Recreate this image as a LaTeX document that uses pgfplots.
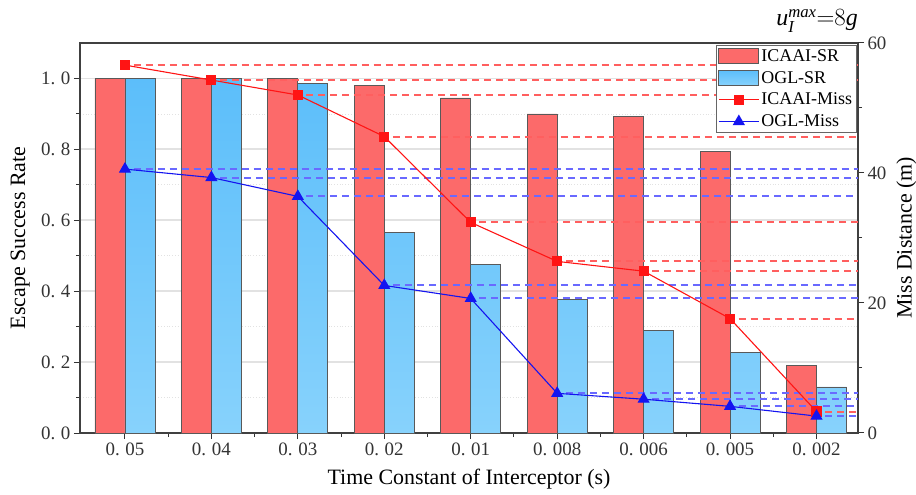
\documentclass[border=0pt]{standalone}
\usepackage{fontspec}
\setmainfont{Liberation Serif}
\usepackage{pgfplots}
\pgfplotsset{compat=1.18}
\definecolor{barred}{RGB}{252,106,106}
\definecolor{bluetop}{RGB}{92,190,250}
\definecolor{bluebot}{RGB}{135,210,252}
\definecolor{missred}{RGB}{255,20,20}
\definecolor{missblue}{RGB}{20,20,240}
\definecolor{dashred}{RGB}{255,95,95}
\definecolor{dashblue}{RGB}{105,105,255}
\definecolor{gridgray}{RGB}{226,226,226}
\newcommand\tk[2]{#1.\hspace{0.3em}#2}
\pgfplotsset{
  barleg/.style={legend image code/.code={\draw[##1] (0bp,-7.5bp) rectangle (40bp,7.5bp);}},
  lineleg/.style={legend image code/.code={\draw[mark repeat=2,mark phase=2,##1] plot coordinates {(0bp,0bp) (20bp,0bp) (40bp,0bp)};}},
  dashR/.style={draw=dashred, line width=2bp, dash pattern=on 7bp off 5bp, forget plot},
  dashB/.style={draw=dashblue, line width=2bp, dash pattern=on 7bp off 5bp, forget plot},
}
\begin{document}
\begin{tikzpicture}
\begin{axis}[
  at={(0,0)}, anchor=south west,
  scale only axis, width=778bp, height=390bp,
  xmin=-0.52, xmax=8.48, ymin=0, ymax=1.1,
  xtick={0,...,8},
  xticklabels={\tk{0}{05},\tk{0}{04},\tk{0}{03},\tk{0}{02},\tk{0}{01},\tk{0}{008},\tk{0}{006},\tk{0}{005},\tk{0}{002}},
  minor xtick={0.5,1.5,2.5,3.5,4.5,5.5,6.5,7.5},
  ytick={0,0.2,0.4,0.6,0.8,1.0},
  yticklabels={\tk{0}{0},\tk{0}{2},\tk{0}{4},\tk{0}{6},\tk{0}{8},\tk{1}{0}},
  minor ytick={0.1,0.3,0.5,0.7,0.9},
  xtick pos=bottom, ytick pos=left,
  tick align=outside,
  major tick length=6bp, minor tick length=4bp,
  every tick/.style={black!80, line width=1bp},
  axis line style={black!75, line width=1.3bp},
  ymajorgrids, yminorgrids,
  major grid style={gridgray, line width=1.8bp},
  minor grid style={gridgray, line width=0.8bp, dotted},
  tick label style={font=\fontsize{19}{19}\selectfont, text=black!80},
  label style={font=\fontsize{22}{22}\selectfont},
  xlabel={Time Constant of Interceptor (s)},
  ylabel={Escape Success Rate},
  xlabel style={at={(axis description cs:0.5,-0.118)}, anchor=center},
  ylabel style={at={(axis description cs:-0.077,0.5)}, anchor=center},
]
\addplot[ybar, bar width=30bp, bar shift=-15bp, fill=barred, draw=black!65, line width=0.8bp]
  coordinates {(0,1.0) (1,1.0) (2,1.0) (3,0.98) (4,0.945) (5,0.9) (6,0.894) (7,0.795) (8,0.19)};
\addplot[ybar, bar width=30bp, bar shift=15bp, top color=bluetop, bottom color=bluebot, draw=black!65, line width=0.8bp]
  coordinates {(0,1.0) (1,1.0) (2,0.985) (3,0.566) (4,0.476) (5,0.377) (6,0.29) (7,0.228) (8,0.13)};
\end{axis}
\begin{axis}[
  at={(0,0)}, anchor=south west,
  scale only axis, width=778bp, height=390bp,
  xmin=-0.52, xmax=8.48, ymin=0, ymax=60,
  axis x line=none, axis y line*=right,
  ytick={0,20,40,60}, yticklabels={0,20,40,60},
  minor ytick={10,30,50},
  tick align=outside,
  major tick length=6bp, minor tick length=4bp,
  every tick/.style={black!80, line width=1bp},
  axis line style={black!75, line width=1.3bp},
  tick label style={font=\fontsize{19}{19}\selectfont, text=black!80},
  label style={font=\fontsize{22}{22}\selectfont},
  ylabel={Miss Distance (m)},
  ylabel style={at={(axis description cs:1.062,0.5)}, anchor=center},
  legend style={at={(rel axis cs:0.998,0.995)}, anchor=north east,
    font=\fontsize{18}{18}\selectfont, draw=black!60, line width=0.8bp,
    inner sep=2bp, row sep=4.5bp, cells={anchor=west}},
]
\addlegendimage{barleg, fill=barred, draw=black!65, line width=0.8bp}
\addlegendentry{ICAAI-SR}
\addlegendimage{barleg, top color=bluetop, bottom color=bluebot, draw=black!65, line width=0.8bp}
\addlegendentry{OGL-SR}
\addlegendimage{lineleg, missred, line width=1.1bp, mark=square*, mark size=4.5bp}
\addlegendentry{ICAAI-Miss}
\addlegendimage{lineleg, missblue, line width=1.1bp, mark=triangle*, mark size=6bp}
\addlegendentry{OGL-Miss}
% dashed reference lines (ICAAI)
\addplot[dashR] coordinates {(0.1,56.6) (8.48,56.6)};
\addplot[dashR] coordinates {(1.1,54.3) (8.48,54.3)};
\addplot[dashR] coordinates {(2.1,52.0) (8.48,52.0)};
\addplot[dashR] coordinates {(3.1,45.6) (8.48,45.6)};
\addplot[dashR] coordinates {(4.1,32.4) (8.48,32.4)};
\addplot[dashR] coordinates {(5.1,26.4) (8.48,26.4)};
\addplot[dashR] coordinates {(6.1,24.9) (8.48,24.9)};
\addplot[dashR] coordinates {(7.1,17.6) (8.48,17.6)};
\addplot[dashR] coordinates {(8.1,3.3) (8.48,3.3)};
% dashed reference lines (OGL)
\addplot[dashB] coordinates {(0.1,40.6) (8.48,40.6)};
\addplot[dashB] coordinates {(1.1,39.3) (8.48,39.3)};
\addplot[dashB] coordinates {(2.1,36.4) (8.48,36.4)};
\addplot[dashB] coordinates {(3.1,22.7) (8.48,22.7)};
\addplot[dashB] coordinates {(4.1,20.7) (8.48,20.7)};
\addplot[dashB] coordinates {(5.1,6.1) (8.48,6.1)};
\addplot[dashB] coordinates {(6.1,5.2) (8.48,5.2)};
\addplot[dashB] coordinates {(7.1,4.1) (8.48,4.1)};
\addplot[dashB] coordinates {(8.1,2.6) (8.48,2.6)};
% miss distance lines
\addplot[missred, line width=1.1bp, mark=square*, mark size=4.5bp, forget plot]
  coordinates {(0,56.6) (1,54.3) (2,52.0) (3,45.6) (4,32.4) (5,26.4) (6,24.9) (7,17.6) (8,3.3)};
\addplot[missblue, line width=1.1bp, mark=triangle*, mark size=6bp, forget plot]
  coordinates {(0,40.6) (1,39.3) (2,36.4) (3,22.7) (4,20.7) (5,6.1) (6,5.2) (7,4.1) (8,2.6)};
\end{axis}
\node[anchor=base east, inner sep=0pt, font=\fontsize{24}{24}\selectfont] at (778bp,407bp)
  {$\mathit{u}_{\mathit{I}}^{\mathit{max}}{=}8\mathit{g}$};
\pgfresetboundingbox
\path[use as bounding box] (-80bp,-62bp) rectangle (836bp,433bp);
\end{tikzpicture}
\end{document}
